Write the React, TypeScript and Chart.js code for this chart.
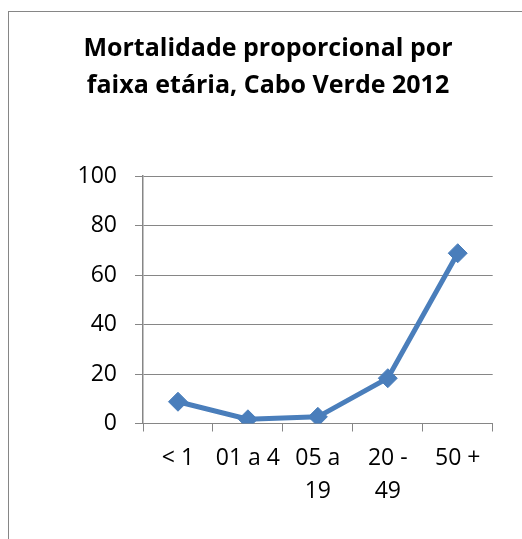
import React, { useEffect, useRef } from "react";
import { Chart, registerables } from "chart.js";

Chart.register(...registerables);

const titleLines = ["Mortalidade proporcional por", "faixa etária, Cabo Verde 2012"];
const categories: (string | string[])[] = ["< 1", "01 a 4", ["05 a", "19"], ["20 -", "49"], "50 +"];
const values = [8.8, 1.7, 2.7, 18.3, 68.8];
const yMin = 0;
const yMax = 100;
const yStep = 20;

const BLUE = "#4a7ebb";
const GRID = "#868686";

export default function App() {
  const ref = useRef<HTMLCanvasElement | null>(null);

  useEffect(() => {
    if (!ref.current) return;
    Chart.defaults.font.family = "'Open Sans', sans-serif";
    Chart.defaults.color = "#000";
    const chart = new Chart(ref.current, {
      type: "line",
      data: {
        labels: categories,
        datasets: [
          {
            data: values,
            borderColor: BLUE,
            backgroundColor: BLUE,
            borderWidth: 5,
            pointStyle: "rectRot",
            pointRadius: 9.5,
            pointBorderWidth: 1,
            pointBackgroundColor: BLUE,
            pointBorderColor: BLUE,
            tension: 0,
          },
        ],
      },
      options: {
        responsive: false,
        animation: false,
        layout: { padding: { left: 34.3, right: 29.3, top: 0, bottom: 0 } },
        plugins: {
          legend: { display: false },
          tooltip: { enabled: false },
          title: {
            display: true,
            text: titleLines,
            color: "#000",
            font: { size: 25, weight: "bold", lineHeight: 1.5 },
            padding: { top: 18, bottom: 71 },
          },
        },
        scales: {
          x: {
            offset: true,
            grid: {
              offset: true,
              drawOnChartArea: false,
              drawTicks: true,
              tickLength: 8,
              color: GRID,
              lineWidth: 1,
            },
            border: { display: true, color: GRID, width: 1 },
            ticks: {
              font: { size: 23, lineHeight: 1.42 },
              color: "#000",
              padding: 11,
              maxRotation: 0,
              autoSkip: false,
            },
            afterFit: (s: any) => {
              s.height = 115.5;
            },
          },
          y: {
            min: yMin,
            max: yMax,
            ticks: {
              stepSize: yStep,
              font: { size: 23 },
              color: "#000",
              padding: 18,
            },
            grid: {
              color: GRID,
              lineWidth: 1,
              drawTicks: true,
              tickLength: 8,
            },
            border: { display: true, color: GRID, width: 1.5 },
            afterFit: (s: any) => {
              s.width = 99.7;
            },
          },
        },
      },
    });
    return () => chart.destroy();
  }, []);

  return (
    <div
      style={{
        position: "fixed",
        left: 8,
        top: 11,
        width: 514,
        height: 528,
        boxSizing: "border-box",
        borderLeft: "1px solid " + GRID,
        borderTop: "1px solid " + GRID,
        overflow: "hidden",
        background: "#fff",
      }}
    >
      <canvas ref={ref} width={513} height={527} style={{ display: "block" }} />
    </div>
  );
}
